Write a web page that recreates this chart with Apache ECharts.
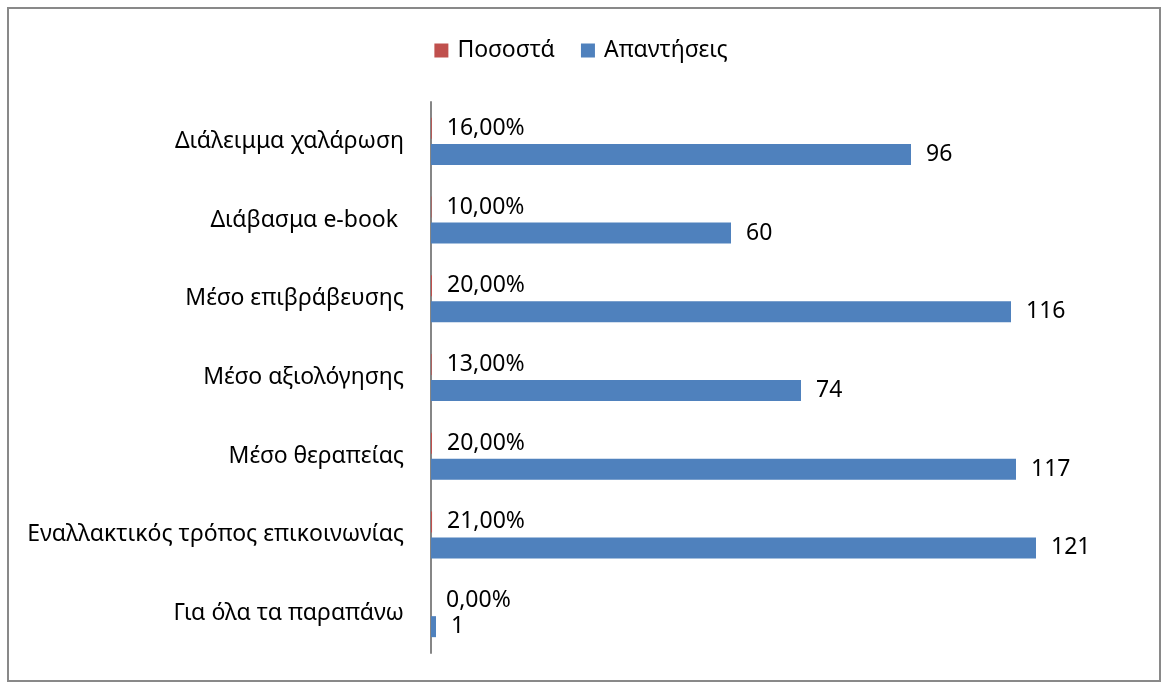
<!DOCTYPE html>
<html>
<head>
<meta charset="utf-8">
<script src="https://cdn.jsdelivr.net/npm/echarts@6/dist/echarts.min.js"></script>
<style>
  html, body { margin: 0; padding: 0; background: #fff; }
  #chart { width: 1162px; height: 684px; }
</style>
</head>
<body>
<div id="chart"></div>
<script>
// categories, top to bottom
const categories = [
    "Διάλειμμα χαλάρωση",
    "Διάβασμα e-book ",
    "Μέσο επιβράβευσης",
    "Μέσο αξιολόγησης",
    "Μέσο θεραπείας",
    "Εναλλακτικός τρόπος επικοινωνίας",
    "Για όλα τα παραπάνω"
];
const percentages = [0.16, 0.10, 0.20, 0.13, 0.20, 0.21, 0.00];
const answers = [96, 60, 116, 74, 117, 121, 1];

const font = "'Noto Sans', sans-serif";

const chart = echarts.init(document.getElementById('chart'), null, {renderer: 'canvas'});

chart.setOption({
    animation: false,
    backgroundColor: '#fff',
    textStyle: {fontFamily: font},
    graphic: [{
        type: 'rect',
        shape: {x: 8, y: 8, width: 1152, height: 673},
        style: {fill: 'none', stroke: '#898989', lineWidth: 2},
        silent: true
    }],
    legend: {
        top: 34,
        left: 'center',
        itemWidth: 14,
        itemHeight: 14,
        itemGap: 26,
        icon: 'rect',
        textStyle: {fontFamily: font, fontSize: 23, color: '#000', padding: [0, 0, 0, 4]},
        data: ['Ποσοστά', 'Απαντήσεις']
    },
    grid: {left: 431, top: 102, height: 551, right: 31, containLabel: false},
    xAxis: {
        type: 'value',
        min: 0,
        max: 140,
        show: false
    },
    yAxis: {
        type: 'category',
        inverse: true,
        data: categories,
        axisLine: {show: true, lineStyle: {color: '#868686', width: 2}},
        axisTick: {show: false},
        axisLabel: {fontFamily: font, fontSize: 23, color: '#000', margin: 27}
    },
    series: [
        {
            name: 'Ποσοστά',
            type: 'bar',
            data: percentages,
            barWidth: 21,
            barGap: '24%',
            itemStyle: {color: '#C0504D'},
            label: {
                show: true,
                position: 'right',
                distance: 15,
                fontFamily: font,
                fontSize: 23,
                color: '#000',
                formatter: p => (p.value * 100).toFixed(2).replace('.', ',') + '%'
            }
        },
        {
            name: 'Απαντήσεις',
            type: 'bar',
            data: answers,
            barWidth: 21,
            itemStyle: {color: '#4F81BD'},
            label: {
                show: true,
                position: 'right',
                distance: 15,
                fontFamily: font,
                fontSize: 23,
                color: '#000'
            }
        }
    ]
});
</script>
</body>
</html>
